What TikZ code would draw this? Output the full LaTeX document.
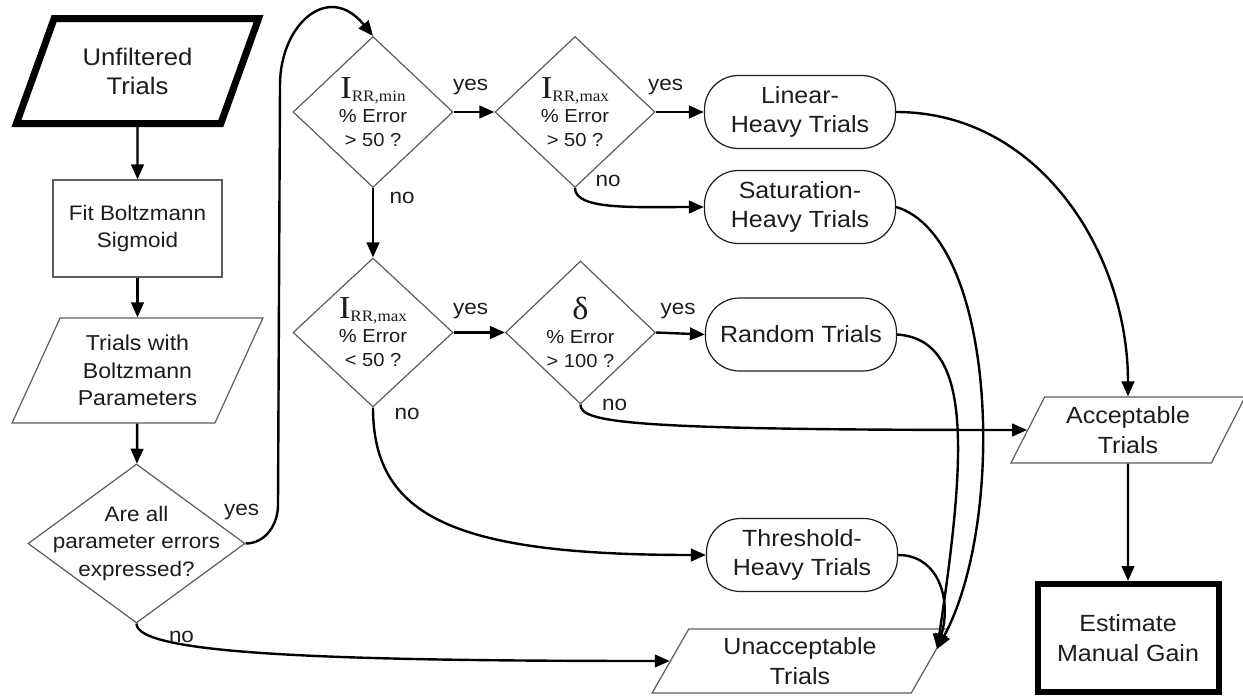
\documentclass[tikz,border=0pt]{standalone}
\usepackage{fontspec}
\setmainfont{Liberation Sans}[FakeStretch=1.07]
\newfontfamily\tnr{Liberation Serif}[FakeStretch=1.07]
\usepackage{tikz}
\usetikzlibrary{shapes.geometric,arrows.meta,positioning,calc}
\definecolor{boxgray}{HTML}{5C5C5C}
\definecolor{inkblack}{HTML}{1C1C1C}
\newcommand{\Irr}[1]{{\tnr\fontsize{16}{16}\selectfont I}{\tnr\fontsize{8}{8}\selectfont\raisebox{-1.5pt}{RR,#1}}}

\begin{document}
\begin{tikzpicture}[
  x=0.5pt, y=-0.5pt,
  >={Triangle[length=7.5pt,width=6.3pt]},
  every node/.style={text=inkblack},
  data/.style={trapezium, trapezium left angle=63, trapezium right angle=117,
               trapezium stretches=true, draw=boxgray, line width=0.6pt,
               align=center, inner sep=1pt, font=\fontsize{11.7}{14.8}\selectfont},
  process/.style={rectangle, draw=boxgray, line width=0.6pt, align=center,
                  font=\fontsize{10.5}{13.2}\selectfont},
  decision/.style={diamond, draw=boxgray, line width=0.6pt, align=center,
                   inner sep=-3pt, font=\fontsize{9.4}{12}\selectfont},
  result/.style={rectangle, rounded corners=17pt, draw=inkblack, line width=0.6pt,
                 minimum width=95.5pt, minimum height=36.5pt, align=center,
                 font=\fontsize{11.7}{14.8}\selectfont},
  lbl/.style={font=\fontsize{10.5}{12}\selectfont, inner sep=0pt},
  arr/.style={->, draw=black, line width=1.2pt},
]
\useasboundingbox (0,0) rectangle (1243,696);

% Input column
\node[data, line width=3.5pt, draw=black, minimum width=122pt, minimum height=52.5pt,
      font=\fontsize{12}{14.5}\selectfont] (unf) at (137.5,71) {Unfiltered\\Trials};
\node[process, minimum width=84.5pt, minimum height=48.5pt] (fit) at (137.5,228.5)
  {Fit Boltzmann\\Sigmoid};
\node[data, minimum width=125.5pt, minimum height=52.5pt,
      font=\fontsize{10.8}{13.8}\selectfont] (twb) at (137.5,370.5)
  {Trials with\\Boltzmann\\Parameters};

% Decisions
\node[decision, inner xsep=-24pt, minimum width=108.5pt, minimum height=79.5pt,
      font=\fontsize{10.5}{13.6}\selectfont] (dall) at (136.5,543.5)
  {Are all\\parameter errors\\expressed?};
\node[decision, minimum width=80pt, minimum height=75.5pt] (dmin) at (373,112)
  {\Irr{min}\\\% Error\\> 50 ?};
\node[decision, minimum width=80pt, minimum height=75.5pt] (dmaxA) at (575,112)
  {\Irr{max}\\\% Error\\> 50 ?};
\node[decision, minimum width=80pt, minimum height=74.5pt] (dmaxB) at (373,332.5)
  {\Irr{max}\\\% Error\\< 50 ?};
\node[decision, minimum width=75pt, minimum height=71.5pt] (ddel) at (580.5,332.5)
  {{\tnr\fontsize{16}{16}\selectfont δ}\\\% Error\\> 100 ?};

% Trial classes
\node[result] (lin) at (800,112) {Linear-\\Heavy Trials};
\node[result] (sat) at (800,207) {Saturation-\\Heavy Trials};
\node[result] (rnd) at (801,334.5) {Random Trials};
\node[result] (thr) at (802,555) {Threshold-\\Heavy Trials};

% Outcomes
\node[data, minimum width=117.5pt, minimum height=33pt] (acc) at (1128,430)
  {Acceptable\\Trials};
\node[data, minimum width=148pt, minimum height=32pt] (una) at (800,661)
  {Unacceptable\\Trials};
\node[process, line width=3pt, draw=black, minimum width=90.5pt, minimum height=54pt,
      font=\fontsize{11.7}{14.8}\selectfont] (est) at (1128,638)
  {Estimate\\Manual Gain};

% Main column arrows
\draw[arr] (unf) -- (fit);
\draw[arr] (fit) -- (twb);
\draw[arr] (twb) -- (dall);

% yes loop back to the top
\coordinate (loopB) at (278,505);
\coordinate (loopT) at (280,85);
\draw[arr] (dall.east) node[lbl, xshift=-2pt, yshift=15.5pt] (yAll) {yes}
  to[out=0,in=-90] (loopB) -- (loopT)
  .. controls +(0,-60) and +(-45,-55) .. (dmin.north);
\draw[arr] (dall.south) node[lbl, xshift=22.5pt, yshift=-6.5pt] (nAll) {no}
  .. controls +(0,30) and +(-350,0) .. (una.180);

% Decision tree
\draw[arr] (dmin.east) -- node[lbl, at start, xshift=8.5pt, yshift=12.5pt] (yMin) {yes} (dmaxA.west);
\draw[arr] (dmin.south) -- node[lbl, at start, xshift=14.5pt, yshift=-5pt] (nMin) {no} (dmaxB.north);
\draw[arr] (dmaxA.east) -- node[lbl, at start, xshift=5pt, yshift=12.5pt] (yMaxA) {yes} (lin.west);
\draw[arr] (dmaxA.south) node[lbl, xshift=16.5pt, yshift=3.5pt] (nMaxA) {no}
  .. controls +(0,22) and +(-70,0) .. (sat.west);
\draw[arr] (dmaxB.east) -- node[lbl, at start, xshift=8.5pt, yshift=10.5pt] (yMaxB) {yes} (ddel.west);
\draw[arr] (dmaxB.south) node[lbl, xshift=17pt, yshift=-3pt] (nMaxB) {no}
  .. controls +(0,110) and +(-250,0) .. (thr.west);
\draw[arr] (ddel.east) -- node[lbl, at start, xshift=11pt, yshift=10.5pt] (yDel) {yes} (rnd.west);
\draw[arr] (ddel.south) node[lbl, xshift=17pt] (nDel) {no}
  .. controls +(0,18) and +(-400,0) .. (acc.180);

% Classes to outcomes
\draw[arr] (lin.east) to[out=0,in=90] (acc.90);
\draw[arr] (sat.east) .. controls +(100,30) and +(70,-130) .. (una.5);
\draw[arr] (rnd.east) .. controls +(75,5) and +(30,-200) .. (una.5);
\draw[arr] (thr.east) .. controls +(40,0) and +(15,-50) .. (una.5);
\draw[arr] (acc) -- (est);

\end{tikzpicture}
\end{document}
